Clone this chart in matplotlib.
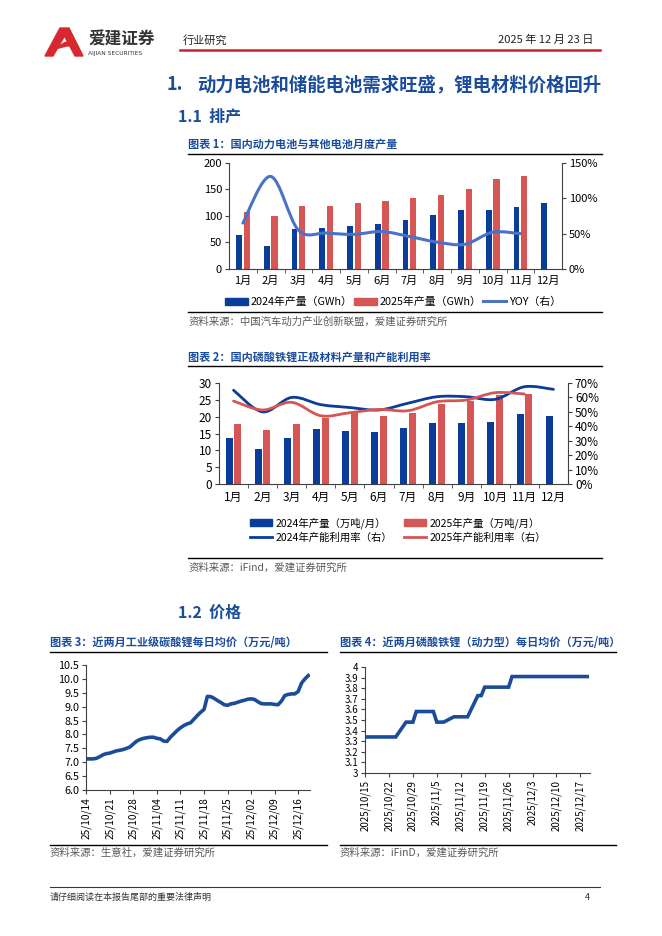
import numpy as np
import pandas as pd
import matplotlib
matplotlib.use('Agg')
import matplotlib.pyplot as plt
from matplotlib.path import Path
from matplotlib.patches import PathPatch, Patch, Polygon
from matplotlib.lines import Line2D
from matplotlib.ticker import FuncFormatter

plt.rcParams['font.family'] = ['Noto Sans CJK SC', 'DejaVu Sans']
plt.rcParams['axes.unicode_minus'] = False

# ---- data ----
months = ['1月', '2月', '3月', '4月', '5月', '6月', '7月', '8月', '9月', '10月', '11月', '12月']

# chart 1: battery output (GWh) and yoy
batt_2024 = [65, 43, 75, 78, 82, 85, 92, 101, 111, 112, 117, 125]
batt_2025 = [108, 100, 118, 118, 124, 129, 134, 139, 151, 169, 176]
batt_yoy = [0.65, 1.31, 0.55, 0.51, 0.49, 0.53, 0.46, 0.38, 0.35, 0.52, 0.50]

# chart 2: LFP cathode output (10k t / month) and utilisation
lfp_2024 = [13.6, 10.3, 13.6, 16.3, 15.7, 15.4, 16.7, 18.0, 18.0, 18.3, 20.7, 20.3]
lfp_2025 = [17.7, 15.9, 17.7, 19.7, 21.3, 20.2, 21.2, 23.9, 24.6, 26.4, 26.7]
util_2024 = [0.65, 0.50, 0.60, 0.55, 0.53, 0.513, 0.56, 0.605, 0.605, 0.587, 0.674, 0.656]
util_2025 = [0.575, 0.513, 0.566, 0.473, 0.494, 0.517, 0.508, 0.57, 0.582, 0.633, 0.624]

# chart 3: lithium carbonate daily price, 2025-10-14 .. 2025-12-19
li2co3_start = '2025-10-14'
li2co3_price = [7.12, 7.12, 7.12, 7.14, 7.20, 7.27, 7.31, 7.33, 7.37, 7.41,
                7.43, 7.46, 7.50, 7.55, 7.66, 7.76, 7.82, 7.86, 7.88, 7.90,
                7.90, 7.86, 7.84, 7.76, 7.75, 7.90, 8.02, 8.14, 8.24, 8.32,
                8.38, 8.42, 8.55, 8.68, 8.80, 8.90, 9.37, 9.36, 9.30, 9.22,
                9.15, 9.07, 9.05, 9.10, 9.12, 9.16, 9.20, 9.23, 9.27, 9.28,
                9.26, 9.18, 9.11, 9.10, 9.10, 9.10, 9.08, 9.07, 9.20, 9.40,
                9.44, 9.46, 9.46, 9.55, 9.85, 10.00, 10.12]

# chart 4: LFP (power type) daily price, business days 2025-10-15 .. 2025-12-19
lfp_price = [3.34, 3.34, 3.34,
             3.34, 3.34, 3.34, 3.34, 3.34,
             3.48, 3.48, 3.48, 3.58, 3.58,
             3.58, 3.58, 3.48, 3.48, 3.48,
             3.53, 3.53, 3.53, 3.53, 3.53,
             3.73, 3.73, 3.81, 3.81, 3.81,
             3.81, 3.81, 3.81, 3.91, 3.91,
             3.91, 3.91, 3.91, 3.91, 3.91,
             3.91, 3.91, 3.91, 3.91, 3.91,
             3.91, 3.91, 3.91, 3.91, 3.91]

BLUE = '#0A3C9A'
RED = '#D65555'
YOY = '#4A72C6'
TITLE = '#1B4C9C'
AXC = '#404040'
SRC = '#595959'

W, H = 662, 936
fig = plt.figure(figsize=(W / 100, H / 100), dpi=100)


def fx(x):
    return x / W


def fy(y):
    return 1 - y / H


def text(x, y, s, **kw):
    kw.setdefault('va', 'center')
    fig.text(fx(x), fy(y), s, **kw)


def hline(x0, x1, y, color='black', lw=1.0):
    fig.add_artist(Line2D([fx(x0), fx(x1)], [fy(y), fy(y)], color=color, lw=lw,
                          transform=fig.transFigure))


def add_axes(x0, x1, y0, y1):
    return fig.add_axes([fx(x0), fy(y1), (x1 - x0) / W, (y1 - y0) / H])


def smooth_path(x, y):
    # Bezier curve through the points (Excel-style smoothed line)
    x = np.asarray(x, float)
    y = np.asarray(y, float)
    n = len(x)
    verts = [(x[0], y[0])]
    codes = [Path.MOVETO]
    for i in range(n - 1):
        xa, ya = (x[i - 1], y[i - 1]) if i > 0 else (x[i], y[i])
        xb, yb = (x[i + 2], y[i + 2]) if i + 2 < n else (x[i + 1], y[i + 1])
        c1 = (x[i] + (x[i + 1] - xa) / 6, y[i] + (y[i + 1] - ya) / 6)
        c2 = (x[i + 1] - (xb - x[i]) / 6, y[i + 1] - (yb - y[i]) / 6)
        verts += [c1, c2, (x[i + 1], y[i + 1])]
        codes += [Path.CURVE4] * 3
    return Path(verts, codes)


def style_spines(ax, sides):
    for s in ['top', 'bottom', 'left', 'right']:
        ax.spines[s].set_visible(s in sides)
        ax.spines[s].set_color(AXC)
        ax.spines[s].set_linewidth(0.8)


pct = FuncFormatter(lambda v, p: f'{v * 100:.0f}%')

# ---- page header ----
fig.add_artist(Polygon([[fx(45), fy(56)], [fx(60), fy(28)], [fx(69), fy(28)], [fx(83), fy(56)],
                        [fx(75), fy(56)], [fx(64.5), fy(36)], [fx(53), fy(56)]],
                       closed=True, color='#D7282F', transform=fig.transFigure))
fig.add_artist(Polygon([[fx(52), fy(50)], [fx(66), fy(42)], [fx(78), fy(46)], [fx(66), fy(46)]],
                       closed=True, color='#D7282F', transform=fig.transFigure))
text(88, 40, '爱建证券', fontsize=12, fontweight='bold', color='#333333')
text(88, 53, 'AIJIAN SECURITIES', fontsize=4.2, color='#333333', family=['DejaVu Sans'])
text(183, 40, '行业研究', fontsize=8, color='#222222')
text(593, 40, '2025 年 12 月 23 日', fontsize=8, color='#222222', ha='right')
hline(180, 600, 50, color='#C8202F', lw=1.8)

text(167, 85, '1.', fontsize=13, fontweight='bold', color=TITLE)
text(197, 85, '动力电池和储能电池需求旺盛，锂电材料价格回升', fontsize=13.2, fontweight='bold', color=TITLE)
text(178, 117, '1.1  排产', fontsize=11.5, fontweight='bold', color=TITLE)

# ---- chart 1 ----
text(188, 144, '图表 1：国内动力电池与其他电池月度产量', fontsize=8, fontweight='bold', color=TITLE)
hline(188, 602, 154)

ax1 = add_axes(229, 562, 163, 269)
x = np.arange(12)
ax1.bar(x - 0.14, batt_2024, width=0.2, color=BLUE)
ax1.bar(x[:len(batt_2025)] + 0.14, batt_2025, width=0.22, color=RED)
ax1.set_xlim(-0.5, 11.5)
ax1.set_ylim(0, 200)
ax1.set_yticks(np.arange(0, 201, 50))
ax1.set_xticks(x)
ax1.set_xticklabels(months)
ax1.set_xticks(np.arange(0.5, 11, 1), minor=True)
ax1.tick_params(axis='x', which='major', length=0, pad=5, labelsize=8)
ax1.tick_params(axis='x', which='minor', length=3, direction='out', color=AXC)
ax1.tick_params(axis='y', length=3, direction='out', color=AXC, labelsize=8, pad=2)
style_spines(ax1, ['left', 'bottom'])

ax1r = ax1.twinx()
ax1r.set_ylim(0, 1.5)
ax1r.set_yticks([0, 0.5, 1.0, 1.5])
ax1r.yaxis.set_major_formatter(pct)
ax1r.tick_params(axis='y', length=3, direction='out', color=AXC, labelsize=8, pad=2)
style_spines(ax1r, ['right'])
ax1r.add_patch(PathPatch(smooth_path(x[:len(batt_yoy)], batt_yoy), fill=False,
                         edgecolor=YOY, lw=2.2, capstyle='round'))

h1 = [Patch(color=BLUE), Patch(color=RED), Line2D([], [], color=YOY, lw=2.2)]
fig.legend(h1, ['2024年产量（GWh）', '2025年产量（GWh）', 'YOY（右）'],
           loc='center', bbox_to_anchor=(fx(393), fy(302)), ncol=3, frameon=False,
           fontsize=7.8, handlelength=2.1, handletextpad=0.3, columnspacing=0.1)
hline(188, 602, 312)
text(189, 322, '资料来源：中国汽车动力产业创新联盟，爱建证券研究所', fontsize=7.5, color=SRC)

# ---- chart 2 ----
text(188, 357, '图表 2：国内磷酸铁锂正极材料产量和产能利用率', fontsize=8, fontweight='bold', color=TITLE)
hline(188, 602, 366)

ax2 = add_axes(219, 568, 383, 484)
ax2.bar(x - 0.15, lfp_2024, width=0.24, color=BLUE)
ax2.bar(x[:len(lfp_2025)] + 0.15, lfp_2025, width=0.24, color=RED)
ax2.set_xlim(-0.5, 11.5)
ax2.set_ylim(0, 30)
ax2.set_yticks(np.arange(0, 31, 5))
ax2.set_xticks(x)
ax2.set_xticklabels(months)
ax2.set_xticks(np.arange(0.5, 11, 1), minor=True)
ax2.tick_params(axis='x', which='major', length=0, pad=5, labelsize=8.5)
ax2.tick_params(axis='x', which='minor', length=3, direction='out', color=AXC)
ax2.tick_params(axis='y', length=3, direction='out', color=AXC, labelsize=8.5, pad=2)
style_spines(ax2, ['left', 'bottom'])

ax2r = ax2.twinx()
ax2r.set_ylim(0, 0.7)
ax2r.set_yticks(np.arange(0, 0.71, 0.1))
ax2r.yaxis.set_major_formatter(pct)
ax2r.tick_params(axis='y', length=3, direction='out', color=AXC, labelsize=8.5, pad=2)
style_spines(ax2r, ['right'])
ax2r.add_patch(PathPatch(smooth_path(x, util_2024), fill=False, edgecolor=BLUE, lw=2.0,
                         capstyle='round'))
ax2r.add_patch(PathPatch(smooth_path(x[:len(util_2025)], util_2025), fill=False, edgecolor=RED,
                         lw=2.0, capstyle='round'))

h2 = [Patch(color=BLUE), Line2D([], [], color=BLUE, lw=2.0),
      Patch(color=RED), Line2D([], [], color=RED, lw=2.0)]
fig.legend(h2, ['2024年产量（万吨/月）', '2024年产能利用率（右）',
                '2025年产量（万吨/月）', '2025年产能利用率（右）'],
           loc='center', bbox_to_anchor=(fx(398), fy(530)), ncol=2, frameon=False,
           fontsize=7.5, handlelength=2.1, handletextpad=0.3, columnspacing=1.2,
           labelspacing=0.35)
hline(188, 602, 558)
text(189, 568, '资料来源：iFind，爱建证券研究所', fontsize=7.5, color=SRC)

# ---- section 1.2 ----
text(178, 613, '1.2  价格', fontsize=11.5, fontweight='bold', color=TITLE)

# ---- chart 3 ----
text(50, 643, '图表 3：近两月工业级碳酸锂每日均价（万元/吨）', fontsize=8, fontweight='bold', color=TITLE)
hline(50, 327, 652)

d3 = pd.date_range(li2co3_start, periods=len(li2co3_price), freq='D')
ax3 = add_axes(86, 310, 665, 790)
ax3.plot(d3, li2co3_price, color='#1B4C9C', lw=2.6, solid_joinstyle='round')
ax3.set_ylim(6.0, 10.5)
ax3.set_yticks(np.arange(6.0, 10.51, 0.5))
ax3.yaxis.set_major_formatter(FuncFormatter(lambda v, p: f'{v:.1f}'))
ax3.set_xlim(d3[0] - pd.Timedelta(hours=2), d3[0] + pd.Timedelta(days=66.5))
t3 = pd.date_range(li2co3_start, periods=10, freq='7D')
ax3.set_xticks(t3)
ax3.set_xticklabels([d.strftime('%y/%m/%d') for d in t3], rotation=90)
ax3.tick_params(axis='y', length=3, direction='out', color=AXC, labelsize=7.8, pad=2)
ax3.tick_params(axis='x', length=3, direction='out', color=AXC, labelsize=7.3, pad=2)
style_spines(ax3, ['left', 'bottom'])
hline(50, 327, 845)
text(50, 853, '资料来源：生意社，爱建证券研究所', fontsize=7.5, color=SRC)

# ---- chart 4 ----
text(340, 642, '图表 4：近两月磷酸铁锂（动力型）每日均价（万元/吨）', fontsize=8, fontweight='bold', color=TITLE)
hline(340, 616, 652)

d4 = pd.bdate_range('2025-10-15', '2025-12-19')
ax4 = add_axes(365, 590, 667, 773)
ax4.plot(d4, lfp_price, color='#1B4C9C', lw=2.6, solid_joinstyle='miter')
ax4.set_ylim(3.0, 4.0)
ax4.set_yticks(np.arange(3.0, 4.01, 0.1))
ax4.yaxis.set_major_formatter(FuncFormatter(lambda v, p: f'{v:g}' if abs(v - round(v)) > 1e-6 else f'{round(v)}'))
ax4.set_xlim(d4[0], d4[0] + pd.Timedelta(days=65.8))
t4 = pd.date_range('2025-10-15', periods=10, freq='7D')
ax4.set_xticks(t4)
ax4.set_xticklabels([f'{d.year}/{d.month}/{d.day}' for d in t4], rotation=90)
ax4.tick_params(axis='both', length=3, direction='out', color=AXC, labelsize=7.0, pad=2)
style_spines(ax4, ['left', 'bottom'])
hline(340, 616, 845)
text(340, 853, '资料来源：iFinD，爱建证券研究所', fontsize=7.5, color=SRC)

# ---- footer ----
hline(50, 600, 887, color='#1F3864', lw=0.8)
text(50, 897, '请仔细阅读在本报告尾部的重要法律声明', fontsize=6.5, color='#333333')
text(590, 897, '4', fontsize=6.5, color='#333333', ha='right')

fig.savefig('out.png', dpi=100)
